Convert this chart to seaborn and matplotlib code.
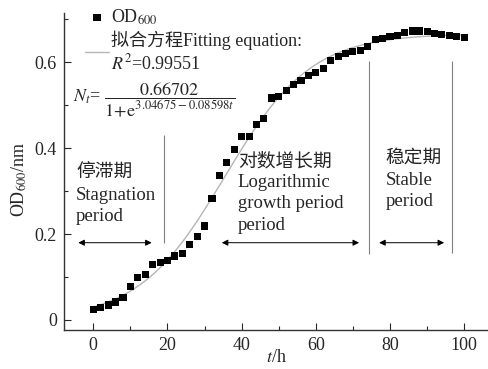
import numpy as np
import pandas as pd
import matplotlib
matplotlib.use("Agg")
import matplotlib.pyplot as plt
import seaborn as sns
from matplotlib.ticker import MultipleLocator

# ---- data ----
time_h = [0, 2, 4, 6, 8, 10, 12, 14, 16, 18, 20, 22, 24, 26, 28, 30, 32, 34, 36, 38,
          40, 42, 44, 46, 48, 50, 52, 54, 56, 58, 60, 62, 64, 66, 68, 70, 72, 74, 76,
          78, 80, 82, 84, 86, 88, 90, 92, 94, 96, 98, 100]
od600 = [0.025, 0.030, 0.035, 0.042, 0.052, 0.077, 0.098, 0.106, 0.129, 0.133,
         0.138, 0.149, 0.154, 0.176, 0.194, 0.219, 0.283, 0.336, 0.366, 0.397,
         0.428, 0.428, 0.456, 0.470, 0.517, 0.521, 0.535, 0.549, 0.558, 0.570,
         0.577, 0.585, 0.605, 0.614, 0.620, 0.626, 0.628, 0.637, 0.653, 0.655,
         0.660, 0.663, 0.670, 0.673, 0.673, 0.672, 0.668, 0.665, 0.663, 0.661, 0.657]

# fitted logistic parameters (printed on the chart)
fit_A = 0.66702
fit_b = 3.04675
fit_k = 0.08598

phase_bounds = [19.15, 74.45, 96.85]

sns.set_style("ticks")
plt.rcParams['font.family'] = ['Liberation Serif', 'Noto Sans CJK SC']
plt.rcParams['mathtext.fontset'] = 'stix'

fig = plt.figure(figsize=(4.89, 3.69), dpi=100)
ax = fig.add_axes([64/489, 39/369, 425/489, 317/369])

df = pd.DataFrame({"t": time_h, "od": od600})
tfit = np.linspace(0, 100, 300)
fit_df = pd.DataFrame({"t": tfit, "od": fit_A / (1 + np.exp(fit_b - fit_k * tfit))})

sns.lineplot(data=fit_df, x="t", y="od", ax=ax, color="#b5b5b5", lw=1.0,
             label="拟合方程Fitting equation:\n$R^2$=0.99551", zorder=2)
sns.scatterplot(data=df, x="t", y="od", ax=ax, marker="s", s=26, color="black",
                edgecolor="none", label="OD$_{600}$", zorder=3)

ax.set_xlim(-7.9, 106.7)
ax.set_ylim(-0.0233, 0.715)
ax.xaxis.set_major_locator(MultipleLocator(20))
ax.xaxis.set_minor_locator(MultipleLocator(10))
ax.yaxis.set_major_locator(MultipleLocator(0.2))
ax.yaxis.set_minor_locator(MultipleLocator(0.1))
ax.set_yticks([0, 0.2, 0.4, 0.6])
ax.set_yticklabels(["0", "0.2", "0.4", "0.6"])
ax.tick_params(which="major", direction="in", length=5, width=0.8, labelsize=13, pad=5)
ax.tick_params(which="minor", direction="in", length=3, width=0.8)
for s in ["top", "right"]:
    ax.spines[s].set_visible(False)
for s in ["left", "bottom"]:
    ax.spines[s].set_linewidth(1.0)
    ax.spines[s].set_color("#333333")

ax.set_xlabel("$t$/h", fontsize=13)
ax.xaxis.set_label_coords(0.5, -0.06)
ax.set_ylabel("OD$_{600}$/nm", fontsize=13)
ax.yaxis.set_label_coords(-0.083, 0.476)

h, l = ax.get_legend_handles_labels()
leg = ax.legend([h[1], h[0]], [l[1], l[0]], loc="upper left", bbox_to_anchor=(0.05, 1.018),
                frameon=False, fontsize=13, handlelength=1.3, handletextpad=0.12,
                labelspacing=0.22, borderpad=0, borderaxespad=0)

ax.text(-5.45, 0.512, r"$N_t$= $\dfrac{0.66702}{1\!+\!\mathrm{e}^{3.04675-0.08598t}}$",
        fontsize=13, va="center", ha="left")

# phase separators
ax.vlines(phase_bounds[0], 0.179, 0.432, color="#808080", lw=0.8)
ax.vlines(phase_bounds[1], 0.153, 0.603, color="#808080", lw=0.8)
ax.vlines(phase_bounds[2], 0.156, 0.603, color="#808080", lw=0.8)

arrow_y = 0.180
for x0, x1 in [(-4.05, 15.75), (34.64, 71.67), (77.07, 94.6)]:
    ax.annotate("", xy=(x1, arrow_y), xytext=(x0, arrow_y),
                arrowprops=dict(arrowstyle="<|-|>", color="black", lw=0.7,
                                mutation_scale=9, shrinkA=0, shrinkB=0))

fs = 13.5
ax.text(-4.67, 0.345, "停滞期", fontsize=fs, va="center")
ax.text(-4.67, 0.291, "Stagnation", fontsize=fs, va="center")
ax.text(-4.67, 0.242, "period", fontsize=fs, va="center")

ax.text(39.0, 0.369, "对数增长期", fontsize=fs, va="center")
ax.text(39.0, 0.320, "Logarithmic", fontsize=fs, va="center")
ax.text(39.0, 0.272, "growth period", fontsize=fs, va="center")
ax.text(39.0, 0.221, "period", fontsize=fs, va="center")

ax.text(78.9, 0.377, "稳定期", fontsize=fs, va="center")
ax.text(78.9, 0.326, "Stable", fontsize=fs, va="center")
ax.text(78.9, 0.275, "period", fontsize=fs, va="center")

fig.savefig("out.png", dpi=100)
